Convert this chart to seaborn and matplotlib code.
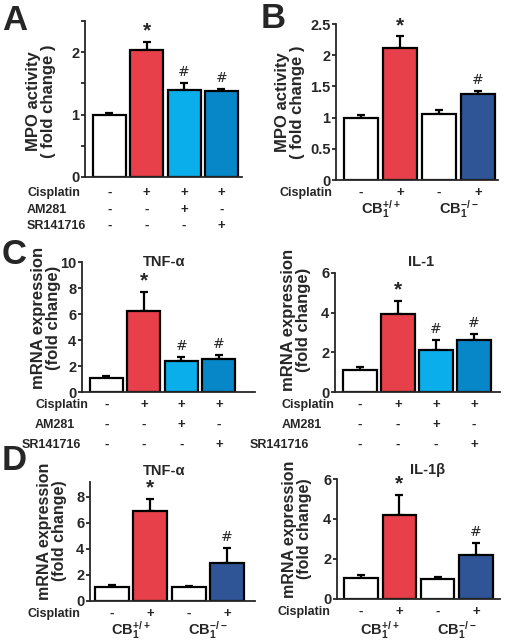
import numpy as np
import matplotlib
matplotlib.use("Agg")
import matplotlib.pyplot as plt
import matplotlib.transforms as mtrans
import seaborn as sns

W, H = 505, 643

sns.set_style("ticks")
plt.rcParams["font.family"] = ["Liberation Sans", "DejaVu Sans"]
plt.rcParams["font.weight"] = "bold"
plt.rcParams["mathtext.fontset"] = "custom"
plt.rcParams["mathtext.rm"] = "Liberation Sans:bold"
plt.rcParams["mathtext.bf"] = "Liberation Sans:bold"
plt.rcParams["mathtext.default"] = "bf"

RED = "#E8404A"
LBLUE = "#0AAEEA"
BLUE = "#0887C8"
DBLUE = "#2F5597"
WHITE = "#FFFFFF"

# ── data ────────────────────────────────────────────────────────────────────
drug_groups = ["Vehicle", "Cisplatin", "Cis+AM281", "Cis+SR141716"]
drug_colors = [WHITE, RED, LBLUE, BLUE]
geno_groups = ["CB1+/+ veh", "CB1+/+ cis", "CB1-/- veh", "CB1-/- cis"]
geno_colors = [WHITE, RED, WHITE, DBLUE]

a_mpo = [1.00, 2.04, 1.40, 1.38]
a_err = [0.02, 0.13, 0.10, 0.03]
a_marks = ["", "*", "#", "#"]

b_mpo = [1.00, 2.12, 1.05, 1.38]
b_err = [0.04, 0.18, 0.07, 0.05]
b_marks = ["", "*", "", "#"]

c_tnf = [1.05, 6.20, 2.35, 2.55]
c_tnf_err = [0.15, 1.50, 0.35, 0.30]
c_il1 = [1.10, 3.95, 2.10, 2.60]
c_il1_err = [0.15, 0.65, 0.50, 0.30]
c_marks = ["", "*", "#", "#"]

d_tnf = [1.10, 6.90, 1.05, 2.90]
d_tnf_err = [0.12, 0.95, 0.08, 1.15]
d_il1 = [1.05, 4.20, 1.00, 2.20]
d_il1_err = [0.15, 1.00, 0.10, 0.60]
d_marks = ["", "*", "", "#"]

cisplatin_row = ["-", "+", "+", "+"]
am281_row = ["-", "-", "+", "-"]
sr_row = ["-", "-", "-", "+"]
geno_cis_row = ["-", "+", "-", "+"]

fig = plt.figure(figsize=(W / 100, H / 100), dpi=100)


def rect(xl, xr, y0, ytop):
    return [xl / W, (H - y0) / H, (xr - xl) / W, (y0 - ytop) / H]


def bar_panel(r, groups, vals, errs, colors, marks, xlim, ylim, yticks, ylabels):
    ax = fig.add_axes(r)
    sns.barplot(x=groups, y=vals, hue=groups, palette=colors, legend=False,
                order=groups, hue_order=groups, saturation=1, width=0.88,
                edgecolor="black", linewidth=1.6, ax=ax, zorder=2)
    n = len(vals)
    ax.errorbar(range(n), vals, yerr=[np.zeros(n), errs], fmt="none",
                ecolor="black", elinewidth=1.6, capsize=3, capthick=1.6, zorder=1)
    for i, m in enumerate(marks):
        if m == "*":
            ax.annotate(m, (i, vals[i] + errs[i]), xytext=(0, 1), textcoords="offset points",
                        ha="center", va="bottom", fontsize=15, fontweight="bold")
        elif m:
            ax.annotate(m, (i, vals[i] + errs[i]), xytext=(0, 3), textcoords="offset points",
                        ha="center", va="bottom", fontsize=10, fontweight="normal",
                        family="DejaVu Sans")
    ax.set_xlim(*xlim)
    ax.set_ylim(*ylim)
    ax.set_yticks(yticks)
    ax.set_yticklabels(ylabels, fontsize=10.5, fontweight="bold")
    ax.set_xticks([])
    ax.set_xlabel("")
    ax.set_ylabel("")
    sns.despine(ax=ax)
    for s in ("left", "bottom"):
        ax.spines[s].set_linewidth(1.3)
    ax.tick_params(axis="y", length=3, width=1.3, pad=1)
    return ax


def row(ax, label, lx, y, signs, size=9):
    tr = mtrans.blended_transform_factory(ax.transData, fig.transFigure)
    fig.text(lx / W, 1 - y / H, label, ha="left", va="center", fontsize=size, fontweight="bold")
    for i, s in enumerate(signs):
        ax.text(i, 1 - y / H, s, transform=tr, ha="center", va="center",
                fontsize=size + 0.5, fontweight="bold", clip_on=False)


def geno_labels(ax, y):
    tr = mtrans.blended_transform_factory(ax.transData, fig.transFigure)
    ax.text(0.5, 1 - y / H, r"CB$_{1}^{+/+}$", transform=tr, ha="center", va="center",
            fontsize=10.5, clip_on=False)
    ax.text(2.5, 1 - y / H, r"CB$_{1}^{-/-}$", transform=tr, ha="center", va="center",
            fontsize=10.5, clip_on=False)


def ylab(x, y, text, size):
    fig.text(x / W, 1 - y / H, text, rotation=90, ha="center", va="center",
             fontsize=size, fontweight="bold", linespacing=1.05)


def letter(x, y, t):
    fig.text(x / W, 1 - y / H, t, ha="left", va="top", fontsize=25, fontweight="bold")


def title(ax, x, y, t):
    fig.text(x / W, 1 - y / H, t, ha="center", va="center", fontsize=10.5, fontweight="bold")


# ── A ───────────────────────────────────────────────────────────────────────
axA = bar_panel(rect(85, 242, 177, 21), drug_groups, a_mpo, a_err, drug_colors, a_marks,
                (-0.65, 3.55), (0, 2.5), np.arange(0, 2.51, 0.5),
                ["0", "", "1", "", "2", ""])
ylab(41, 101, "MPO activity\n( fold change )", 12)
row(axA, "Cisplatin", 27, 193, cisplatin_row)
row(axA, "AM281", 27, 210, am281_row)
row(axA, "SR141716", 27, 226, sr_row)
letter(2, 4, "A")

# ── B ───────────────────────────────────────────────────────────────────────
axB = bar_panel(rect(336, 498, 180, 24), geno_groups, b_mpo, b_err, geno_colors, b_marks,
                (-0.64, 3.51), (0, 2.5), np.arange(0, 2.51, 0.5),
                ["0", "0.5", "1", "1.5", "2", "2.5"])
ylab(290, 102, "MPO activity\n( fold change )", 12)
row(axB, "Cisplatin", 279, 193, geno_cis_row)
geno_labels(axB, 209)
letter(261, 2, "B")

# ── C ───────────────────────────────────────────────────────────────────────
axC1 = bar_panel(rect(82, 255, 392, 262), drug_groups, c_tnf, c_tnf_err, drug_colors, c_marks,
                 (-0.65, 3.96), (0, 10), np.arange(0, 10.1, 2),
                 ["0", "2", "4", "6", "8", "10"])
ylab(46, 318, "mRNA expression\n(fold change)", 12)
title(axC1, 164, 262, "TNF-α")
row(axC1, "Cisplatin", 35, 405, cisplatin_row)
row(axC1, "AM281", 35, 425, am281_row)
row(axC1, "SR141716", 22, 445, sr_row)
letter(2, 238, "C")

axC2 = bar_panel(rect(335, 500, 392, 273), drug_groups, c_il1, c_il1_err, drug_colors, c_marks,
                 (-0.66, 3.68), (0, 6), np.arange(0, 6.1, 2),
                 ["0", "2", "4", "6"])
ylab(296, 320, "mRNA expression\n(fold change)", 12)
title(axC2, 421, 262, "IL-1")
row(axC2, "Cisplatin", 282, 405, cisplatin_row)
row(axC2, "AM281", 282, 425, am281_row)
row(axC2, "SR141716", 250, 445, sr_row)

# ── D ───────────────────────────────────────────────────────────────────────
axD1 = bar_panel(rect(90, 255, 601, 482), geno_groups, d_tnf, d_tnf_err, geno_colors, d_marks,
                 (-0.57, 3.73), (0, 9.15), np.arange(0, 8.1, 2),
                 ["0", "2", "4", "6", "8"])
ylab(52, 531, "mRNA expression\n(fold change)", 11.5)
title(axD1, 164, 471, "TNF-α")
row(axD1, "Cisplatin", 27, 614, geno_cis_row)
geno_labels(axD1, 630)
letter(2, 444, "D")

axD2 = bar_panel(rect(337, 500, 599, 479), geno_groups, d_il1, d_il1_err, geno_colors, d_marks,
                 (-0.63, 3.63), (0, 6), np.arange(0, 6.1, 2),
                 ["0", "2", "4", "6"])
ylab(297, 529, "mRNA expression\n(fold change)", 11.5)
title(axD2, 428, 470, "IL-1β")
row(axD2, "Cisplatin", 278, 612, geno_cis_row)
geno_labels(axD2, 630)

fig.savefig("out.png", dpi=100)
